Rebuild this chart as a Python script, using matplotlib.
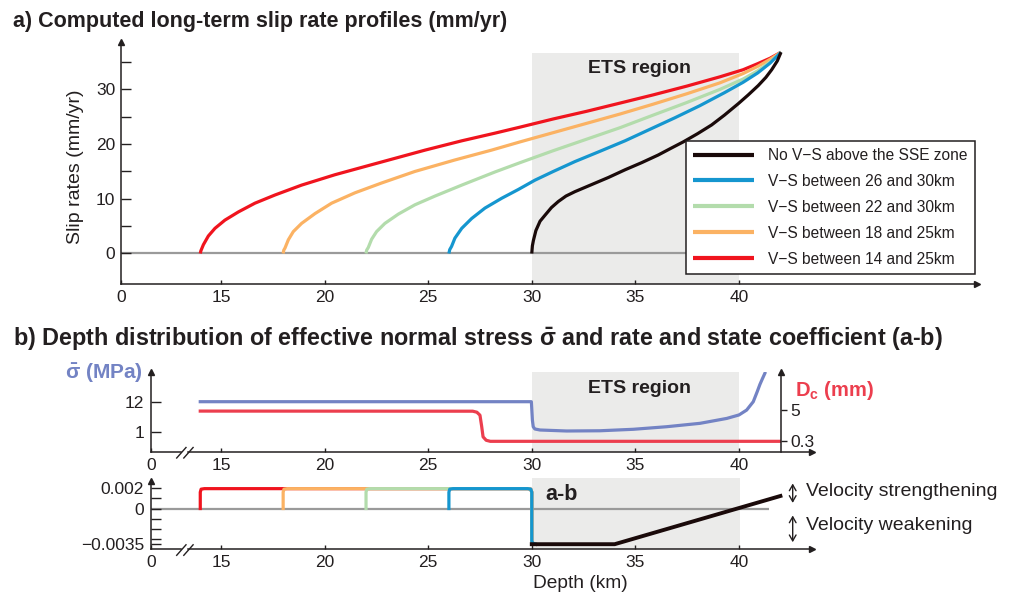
import matplotlib
matplotlib.use("Agg")
import matplotlib.pyplot as plt
from matplotlib.lines import Line2D
from matplotlib.patches import Rectangle, FancyArrowPatch
from matplotlib.ticker import NullLocator

plt.rcParams['font.family'] = ['Liberation Sans', 'DejaVu Sans']
plt.rcParams['mathtext.fontset'] = 'custom'
plt.rcParams['mathtext.rm'] = 'Liberation Sans'
plt.rcParams['mathtext.it'] = 'Liberation Sans:italic'
plt.rcParams['mathtext.bf'] = 'Liberation Sans:bold'

# ==========================================
# DATA
# ==========================================
# a) long-term slip rate (depth km -> mm/yr)
depth_none = [30.0, 30.03, 30.08, 30.2, 30.4, 30.64, 30.95, 31.28, 31.65, 32.08, 32.89, 33.7, 34.5,
              35.3, 36.1, 36.7, 37.31, 38.0, 38.68, 39.3, 39.97, 40.45, 40.93, 41.3, 41.58, 41.85, 42.03]
slip_none = [0.0, 1.4, 2.4, 4.2, 5.9, 7.0, 8.4, 9.5, 10.5, 11.3, 12.6, 13.9, 15.3,
             16.6, 18.0, 19.2, 20.4, 21.9, 23.5, 25.3, 27.4, 29.0, 30.7, 32.2, 33.6, 35.2, 36.8]

depth_26_30 = [26.0, 26.04, 26.13, 26.29, 26.62, 27.1, 27.74, 28.55, 29.35, 30.15, 31.04, 32.08,
               33.3, 34.5, 35.7, 36.9, 38.1, 39.3, 40.2, 40.9, 41.5, 42.03]
slip_26_30 = [0.0, 0.7, 1.3, 2.8, 4.6, 6.4, 8.3, 10.1, 11.7, 13.4, 15.0, 16.8,
              18.7, 20.6, 22.7, 24.8, 27.0, 29.4, 31.3, 33.0, 34.8, 36.8]

depth_22_30 = [22.0, 22.03, 22.11, 22.27, 22.51, 22.91, 23.56, 24.36, 25.33, 26.62, 28.22, 29.43,
               31.04, 32.65, 34.26, 35.86, 37.48, 39.08, 40.2, 40.9, 41.5, 42.03]
slip_22_30 = [0.0, 0.6, 1.1, 2.6, 4.0, 5.5, 7.2, 8.9, 10.5, 12.5, 14.9, 16.6,
              18.8, 20.9, 23.0, 25.3, 27.6, 30.0, 31.9, 33.4, 35.0, 36.8]

depth_18_25 = [18.0, 18.03, 18.09, 18.25, 18.49, 18.89, 19.54, 20.34, 21.47, 22.76, 24.36, 26.29,
               28.06, 29.43, 31.04, 32.65, 34.26, 35.86, 37.48, 39.08, 40.2, 40.9, 41.5, 42.03]
slip_18_25 = [0.0, 0.6, 1.0, 2.5, 4.0, 5.5, 7.3, 9.2, 11.1, 12.9, 15.0, 17.1,
              18.9, 20.4, 22.1, 23.8, 25.5, 27.3, 29.2, 31.2, 32.9, 34.2, 35.5, 36.8]

depth_14_25 = [14.0, 14.03, 14.15, 14.39, 14.71, 15.19, 15.84, 16.64, 17.61, 18.89, 20.5, 22.43,
               24.85, 26.62, 28.22, 29.43, 31.04, 32.65, 34.26, 35.86, 37.48, 39.08, 40.2, 40.9,
               41.5, 42.03]
slip_14_25 = [0.0, 0.5, 1.6, 3.2, 4.6, 6.1, 7.6, 9.2, 10.7, 12.5, 14.4, 16.4,
              18.9, 20.6, 22.0, 23.1, 24.6, 26.0, 27.5, 29.0, 30.6, 32.3, 33.6, 34.7,
              35.7, 36.8]

legend_labels = ["No V\u2212S above the SSE zone", "V\u2212S between 26 and 30km",
                 "V\u2212S between 22 and 30km", "V\u2212S between 18 and 25km",
                 "V\u2212S between 14 and 25km"]

# b) effective normal stress (MPa) and Dc (mm)
sigma_depth = [14.0, 29.98, 30.03, 30.07, 30.15, 30.4, 31.68, 33.29, 34.9, 36.51, 38.12, 39.41,
               40.0, 40.37, 40.69, 40.88, 41.01, 41.13, 41.25]
sigma_mpa = [12.0, 12.0, 2.6, 1.5, 1.25, 1.15, 1.06, 1.08, 1.22, 1.51, 2.0, 3.0,
             4.0, 6.0, 12.0, 27.5, 50.0, 80.0, 126.0]

dc_depth = [14.0, 27.15, 27.35, 27.5, 27.58, 27.65, 27.8, 28.0, 42.0]
dc_mm = [4.65, 4.6, 4.2, 3.2, 1.2, 0.45, 0.33, 0.3, 0.3]

# a-b profiles: velocity-strengthening patch starts, then common tail at 30 km
vs_starts = [14, 18, 22, 26]
ab_head_offset = [0.0, 0.0, 0.04, 0.2]
ab_head_value = [0.0, 0.0016, 0.0019, 0.00195]
ab_tail_depth = [29.8, 29.95, 30.0, 30.0, 30.05, 30.2]
ab_tail_value = [0.00195, 0.0019, 0.0016, -0.0032, -0.0034, -0.0035]
ab_none_depth = [30.0, 34.0, 42.0]
ab_none_value = [-0.0035, -0.0035, 0.00123]

# ==========================================
# STYLE
# ==========================================
INK = '#231f20'
GRAY = '#9a9a9a'
ETS = '#ebebea'
C_BLACK = '#1a0a0a'
C_BLUE = '#1596cf'
C_GREEN = '#b3dcac'
C_ORANGE = '#fbb263'
C_RED = '#f0141e'
C_SIGMA = '#7383c4'
C_DC = '#ec3e4e'

W, H = 1010, 596
fig = plt.figure(figsize=(W / 100, H / 100), dpi=100)


def rect(l, t, r, b):
    return [l / W, 1 - b / H, (r - l) / W, (b - t) / H]


def fx(x):
    return x / W


def fy(y):
    return 1 - y / H


def style_axis(ax):
    for s in ['top', 'right']:
        ax.spines[s].set_visible(False)
    for s in ['left', 'bottom']:
        ax.spines[s].set_linewidth(1.1)
        ax.spines[s].set_color(INK)
    ax.tick_params(colors=INK, labelsize=12.5, width=1.0)


# ==========================================
# a) SLIP RATE PROFILES
# ==========================================
ax1 = fig.add_axes(rect(121, 42, 977, 284))
style_axis(ax1)
x1min, x1max = 10.174, 51.49
y1min, y1max = -5.58, 38.67
ax1.set_xlim(x1min, x1max)
ax1.set_ylim(y1min, y1max)
ax1.add_patch(Rectangle((30, y1min), 10, 36.65 - y1min, fc=ETS, ec='none', zorder=0))
ax1.hlines(0, x1min, 42.0, color=GRAY, lw=1.6, zorder=1)

curves = [(depth_14_25, slip_14_25, C_RED), (depth_18_25, slip_18_25, C_ORANGE),
          (depth_22_30, slip_22_30, C_GREEN), (depth_26_30, slip_26_30, C_BLUE),
          (depth_none, slip_none, C_BLACK)]
handles = {}
for d, s, c in curves:
    handles[c], = ax1.plot(d, s, color=c, lw=2.3, solid_capstyle='butt',
                           solid_joinstyle='round', zorder=3)

ax1.text(35.22, 33.9, 'ETS region', ha='center', va='center', fontsize=14,
         fontweight='bold', color=INK)

ax1.set_xticks([x1min, 15, 20, 25, 30, 35, 40])
ax1.set_xticklabels(['0', '15', '20', '25', '30', '35', '40'])
ax1.set_yticks([0, 5, 10, 15, 20, 25, 30, 35])
ax1.set_yticklabels(['0', '', '10', '', '20', '', '30', ''])
ax1.tick_params(axis='y', direction='in', length=7, pad=4)
ax1.tick_params(axis='x', direction='in', length=3, pad=4)
ax1.plot(1, 0, '>', color=INK, ms=5, transform=ax1.transAxes, clip_on=False)
ax1.plot(0, 1, '^', color=INK, ms=5, transform=ax1.transAxes, clip_on=False)

leg = ax1.legend([handles[c] for c in [C_BLACK, C_BLUE, C_GREEN, C_ORANGE, C_RED]],
                 legend_labels, loc='upper left', bbox_to_anchor=(fx(686), fy(141)),
                 bbox_transform=fig.transFigure, borderaxespad=0, fancybox=False,
                 framealpha=1, edgecolor=INK, fontsize=11.2, handlelength=3.9,
                 handletextpad=0.95, labelspacing=0.7, borderpad=0.45)
leg.get_frame().set_linewidth(1.1)
for h in leg.get_lines():
    h.set_linewidth(3)
for t in leg.get_texts():
    t.set_color(INK)

fig.text(fx(75), fy(167), 'Slip rates (mm/yr)', rotation=90, ha='center', va='center',
         fontsize=14, color=INK)
fig.text(fx(13), fy(26.5), 'a) Computed long-term slip rate profiles (mm/yr)', ha='left',
         va='baseline', fontsize=15.5, fontweight='bold', color=INK)

# ==========================================
# b) SIGMA AND Dc
# ==========================================
x2min, x2max = 11.622, 43.51
ax2 = fig.add_axes(rect(151, 372, 811.7, 452))
style_axis(ax2)
ax2.spines['bottom'].set_visible(False)
ax2.set_xlim(x2min, x2max)
ax2.set_yscale('log')
ax2.set_ylim(0.186, 140.4)
ax2.axvspan(30, 40, color=ETS, lw=0, zorder=0)
ax2.plot(sigma_depth, sigma_mpa, color=C_SIGMA, lw=2.3, zorder=3)
ax2.text(35.22, 37.3, 'ETS region', ha='center', va='center', fontsize=14,
         fontweight='bold', color=INK)
ax2.set_yticks([1, 12])
ax2.set_yticklabels(['1', '12'])
ax2.yaxis.set_minor_locator(NullLocator())
ax2.set_xticks([x2min, 15, 20, 25, 30, 35, 40])
ax2.set_xticklabels(['0', '15', '20', '25', '30', '35', '40'])
ax2.tick_params(axis='y', direction='in', length=7, pad=5)
ax2.tick_params(axis='x', direction='in', length=3, pad=4)
ax2.plot(0, 1, '^', color=INK, ms=5, transform=ax2.transAxes, clip_on=False)

ax3 = fig.add_axes(rect(151, 372, 781, 452), facecolor='none')
for s in ['left', 'top', 'bottom']:
    ax3.spines[s].set_visible(False)
ax3.spines['right'].set_linewidth(1.1)
ax3.spines['right'].set_color(INK)
ax3.set_xlim(x2min, 42.03)
ax3.set_yscale('log')
ax3.set_ylim(0.114, 160.6)
ax3.plot(dc_depth, dc_mm, color=C_DC, lw=2.3, zorder=2)
ax3.set_xticks([])
ax3.yaxis.tick_right()
ax3.set_yticks([0.3, 5])
ax3.set_yticklabels(['0.3', '5'])
ax3.yaxis.set_minor_locator(NullLocator())
ax3.tick_params(axis='y', direction='out', length=4, width=1.0, pad=3, colors=INK,
                labelsize=12.5)
ax3.plot(1, 1, '^', color=INK, ms=5, transform=ax3.transAxes, clip_on=False)

fig.text(fx(142.5), fy(373), r'$\mathbf{\bar{\sigma}}$ (MPa)', ha='right', va='center',
         fontsize=15, fontweight='bold', color=C_SIGMA)
fig.text(fx(795), fy(390), r'D$_{\mathbf{c}}$ (mm)', ha='left', va='center', fontsize=14.5,
         fontweight='bold', color=C_DC)

# ==========================================
# b) a-b
# ==========================================
ax4 = fig.add_axes(rect(151, 481, 811.7, 549.3))
style_axis(ax4)
ax4.spines['bottom'].set_visible(False)
ax4.set_xlim(x2min, x2max)
y4min, y4max = -0.0040, 0.0027
ax4.set_ylim(y4min, y4max)
ax4.add_patch(Rectangle((30, y4min), 10.07, 0.00302 - y4min, fc=ETS, ec='none', zorder=0,
                        clip_on=False))
ax4.hlines(0, x2min, 41.45, color=GRAY, lw=1.6, zorder=1)
for d0, c in zip(vs_starts, [C_RED, C_ORANGE, C_GREEN, C_BLUE]):
    d = [d0 + o for o in ab_head_offset] + ab_tail_depth
    v = ab_head_value + ab_tail_value
    ax4.plot(d, v, color=c, lw=2.3, solid_joinstyle='round', zorder=3)
ax4.plot(ab_none_depth, ab_none_value, color=C_BLACK, lw=2.8, zorder=4)
ax4.text(31.44, 0.00142, 'a-b', ha='center', va='center', fontsize=15.5,
         fontweight='bold', color=INK)
ax4.set_yticks([0.002, 0, -0.0035])
ax4.set_yticklabels(['0.002', '0', '\u22120.0035'])
ax4.set_yticks([0.001, -0.001, -0.002, -0.003], minor=True)
ax4.set_xticks([x2min, 15, 20, 25, 30, 35, 40])
ax4.set_xticklabels(['0', '15', '20', '25', '30', '35', '40'])
ax4.tick_params(axis='y', which='both', direction='in', length=7, pad=5, width=1.0,
                colors=INK)
ax4.tick_params(axis='x', direction='in', length=3, pad=4)
ax4.plot(0, 1, '^', color=INK, ms=5, transform=ax4.transAxes, clip_on=False)

# broken x axes with "//"
for yb in [452, 549.3]:
    fig.add_artist(Line2D([fx(151), fx(181.3)], [fy(yb), fy(yb)], color=INK, lw=1.1))
    fig.add_artist(Line2D([fx(188.4), fx(811.7)], [fy(yb), fy(yb)], color=INK, lw=1.1))
    for xs in [176.7, 183.8]:
        fig.add_artist(Line2D([fx(xs), fx(xs + 9.3)], [fy(yb + 6), fy(yb - 4.5)], color=INK,
                              lw=1.0))
    fig.add_artist(Line2D([fx(811.7)], [fy(yb)], marker='>', ms=5, color=INK))

# velocity strengthening / weakening arrows
for (ya, yb2), label, yt in [((480.7, 505.7), 'Velocity strengthening', 491),
                             ((512.7, 545.0), 'Velocity weakening', 526)]:
    fig.add_artist(FancyArrowPatch((fx(792.7), fy(ya)), (fx(792.7), fy(yb2)),
                                   arrowstyle='<->,head_length=0.35,head_width=0.2',
                                   mutation_scale=12, lw=1.0, color=INK,
                                   transform=fig.transFigure))
    fig.text(fx(806), fy(yt), label, ha='left', va='center', fontsize=14, color=INK)

fig.text(fx(580), fy(583), 'Depth (km)', ha='center', va='center', fontsize=13.8, color=INK)
fig.text(fx(13), fy(346), r'b) Depth distribution of effective normal stress '
         r'$\mathbf{\bar{\sigma}}$ and rate and state coefficient (a-b)', ha='left',
         va='baseline', fontsize=16.8, fontweight='bold', color=INK)

fig.savefig('out.png', dpi=100)
